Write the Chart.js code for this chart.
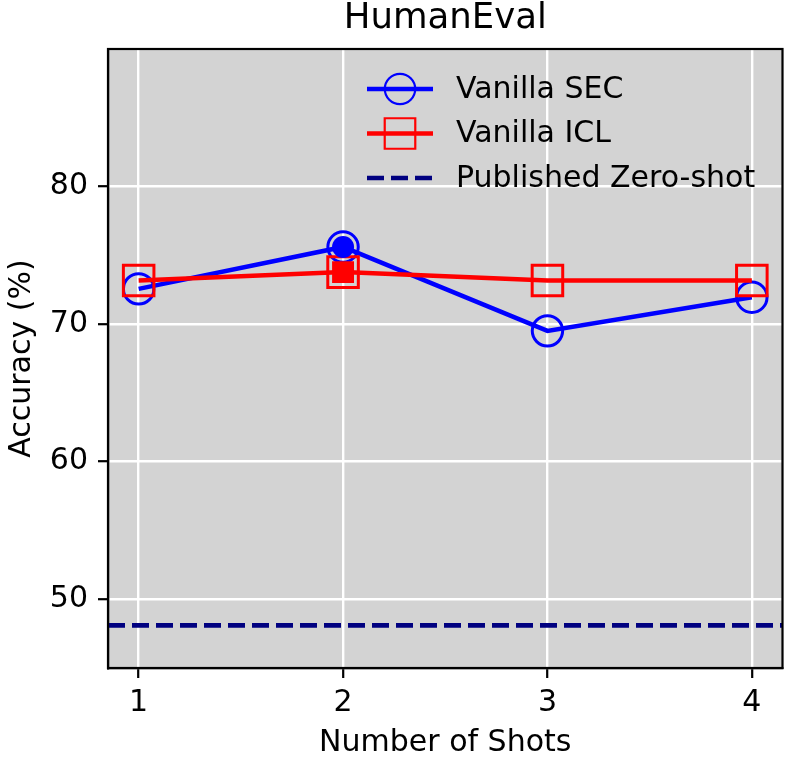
<!DOCTYPE html>
<html>
<head>
<meta charset="utf-8">
<script src="https://cdn.jsdelivr.net/npm/chart.js@4.4.0/dist/chart.umd.min.js"></script>
<style>
  html, body { margin: 0; padding: 0; background: #fff; }
  #wrap { width: 789px; height: 758px; }
</style>
</head>
<body>
<div id="wrap"><canvas id="chart" width="789" height="758"></canvas></div>
<script>
// data (HumanEval, 164 problems)
const shots = [1, 2, 3, 4];
const secAcc = [72.56, 75.61, 69.51, 71.95];
const iclAcc = [73.17, 73.78, 73.17, 73.17];
const zeroShot = 48.1;
const xTicks = [1, 2, 3, 4];
const yTicks = [50, 60, 70, 80];
const xLimits = [0.85, 4.15];
const yLimits = [45, 90];

const FONT = "'DejaVu Sans', 'Liberation Sans', sans-serif";
Chart.defaults.font.family = FONT;
Chart.defaults.color = '#000';

const toPoints = (ys) => shots.map((x, i) => ({ x, y: ys[i] }));
const bestIdx = (ys) => ys.indexOf(Math.max(...ys));

const secBest = bestIdx(secAcc);
const iclBest = bestIdx(iclAcc);

// grey axes background, drawn before grid lines
const axesBackground = {
  id: 'axesBackground',
  beforeDraw(chart) {
    const { ctx, chartArea: a } = chart;
    ctx.save();
    ctx.fillStyle = '#d3d3d3';
    ctx.fillRect(a.left, a.top, a.right - a.left, a.bottom - a.top);
    ctx.restore();
  }
};

// black frame round the plot + legend inside the axes (upper right)
const frameAndLegend = {
  id: 'frameAndLegend',
  afterDraw(chart) {
    const { ctx, chartArea: a } = chart;
    ctx.save();
    ctx.strokeStyle = '#000';
    ctx.lineWidth = 2.2;
    ctx.strokeRect(a.left, a.top, a.right - a.left, a.bottom - a.top);

    const entries = [0, 1, 2].map(i => chart.data.datasets[i]);
    const x0 = a.left + 259, x1 = a.left + 325, tx = a.left + 348;
    entries.forEach((ds, i) => {
      const y = a.top + 40 + i * 44.5;
      ctx.save();
      ctx.strokeStyle = ds.borderColor;
      ctx.lineWidth = ds.borderWidth;
      ctx.setLineDash(ds.borderDash || []);
      ctx.beginPath();
      ctx.moveTo(x0, y);
      ctx.lineTo(x1, y);
      ctx.stroke();
      ctx.restore();
      if (ds.pointRadius > 0) {
        ctx.save();
        ctx.strokeStyle = ds.pointBorderColor;
        ctx.fillStyle = 'rgba(0,0,0,0)';
        Chart.helpers.drawPoint(ctx, {
          pointStyle: ds.pointStyle, radius: ds.pointRadius,
          borderWidth: ds.pointBorderWidth, rotation: 0
        }, (x0 + x1) / 2, y);
        ctx.restore();
      }
      ctx.fillStyle = '#000';
      ctx.font = '30px ' + FONT;
      ctx.textBaseline = 'middle';
      ctx.textAlign = 'left';
      ctx.fillText(ds.label, tx, y + 1);
    });
    ctx.restore();
  }
};

new Chart(document.getElementById('chart'), {
  type: 'line',
  data: {
    datasets: [
      {
        label: 'Vanilla SEC',
        data: toPoints(secAcc),
        borderColor: '#0000ff',
        borderWidth: 4.5,
        pointStyle: 'circle',
        pointRadius: 15.2,
        pointBorderWidth: 3,
        pointBorderColor: '#0000ff',
        pointBackgroundColor: 'rgba(0,0,0,0)',
        order: 4
      },
      {
        label: 'Vanilla ICL',
        data: toPoints(iclAcc),
        borderColor: '#ff0000',
        borderWidth: 4.5,
        pointStyle: 'rect',
        pointRadius: 21.6,
        pointBorderWidth: 3,
        pointBorderColor: '#ff0000',
        pointBackgroundColor: 'rgba(0,0,0,0)',
        order: 3
      },
      {
        label: 'Published Zero-shot',
        data: xLimits.map(x => ({ x, y: zeroShot })),
        borderColor: '#000080',
        borderWidth: 4.6,
        borderDash: [17, 7],
        pointRadius: 0,
        order: 5
      },
      {
        label: 'best SEC',
        data: [{ x: shots[secBest], y: secAcc[secBest] }],
        showLine: false,
        pointStyle: 'circle',
        pointRadius: 11,
        pointBorderWidth: 0,
        pointBackgroundColor: '#0000ff',
        order: 2
      },
      {
        label: 'best ICL',
        data: [{ x: shots[iclBest], y: iclAcc[iclBest] }],
        showLine: false,
        pointStyle: 'rect',
        pointRadius: 15.5,
        pointBorderWidth: 0,
        pointBackgroundColor: '#ff0000',
        order: 1
      }
    ]
  },
  options: {
    responsive: false,
    animation: false,
    devicePixelRatio: 1,
    layout: { autoPadding: false, padding: { left: 0, right: 6.5, top: 0, bottom: 0 } },
    elements: { line: { tension: 0 } },
    plugins: {
      legend: { display: false },
      tooltip: { enabled: false },
      title: {
        display: true,
        fullSize: false,
        text: 'HumanEval',
        color: '#000',
        font: { size: 35.5, weight: 'normal', lineHeight: 1.0 },
        padding: { top: 1, bottom: 12.5 }
      }
    },
    scales: {
      x: {
        type: 'linear',
        min: xLimits[0],
        max: xLimits[1],
        afterBuildTicks: (scale) => { scale.ticks = xTicks.map(v => ({ value: v })); },
        afterFit: (scale) => { scale.height = 90; scale.paddingLeft = 0; scale.paddingRight = 0; },
        grid: { color: '#ffffff', lineWidth: 2.4, tickColor: '#000', tickLength: 10, tickWidth: 2.2 },
        border: { display: true, color: '#000', width: 2.2 },
        ticks: { font: { size: 30 }, color: '#000', padding: 7, maxRotation: 0 },
        title: { display: true, text: 'Number of Shots', color: '#000', font: { size: 30 }, padding: { top: 0, bottom: -3 } }
      },
      y: {
        type: 'linear',
        min: yLimits[0],
        max: yLimits[1],
        afterBuildTicks: (scale) => { scale.ticks = yTicks.map(v => ({ value: v })); },
        afterFit: (scale) => { scale.width = 108; scale.paddingTop = 0; scale.paddingBottom = 0; },
        grid: { color: '#ffffff', lineWidth: 2.4, tickColor: '#000', tickLength: 10, tickWidth: 2.2 },
        border: { display: true, color: '#000', width: 2.2 },
        ticks: { font: { size: 30 }, color: '#000', padding: 10 },
        title: { display: true, text: 'Accuracy (%)', color: '#000', font: { size: 30 }, padding: { top: 4, bottom: 0 } }
      }
    }
  },
  plugins: [axesBackground, frameAndLegend]
});
</script>
</body>
</html>
